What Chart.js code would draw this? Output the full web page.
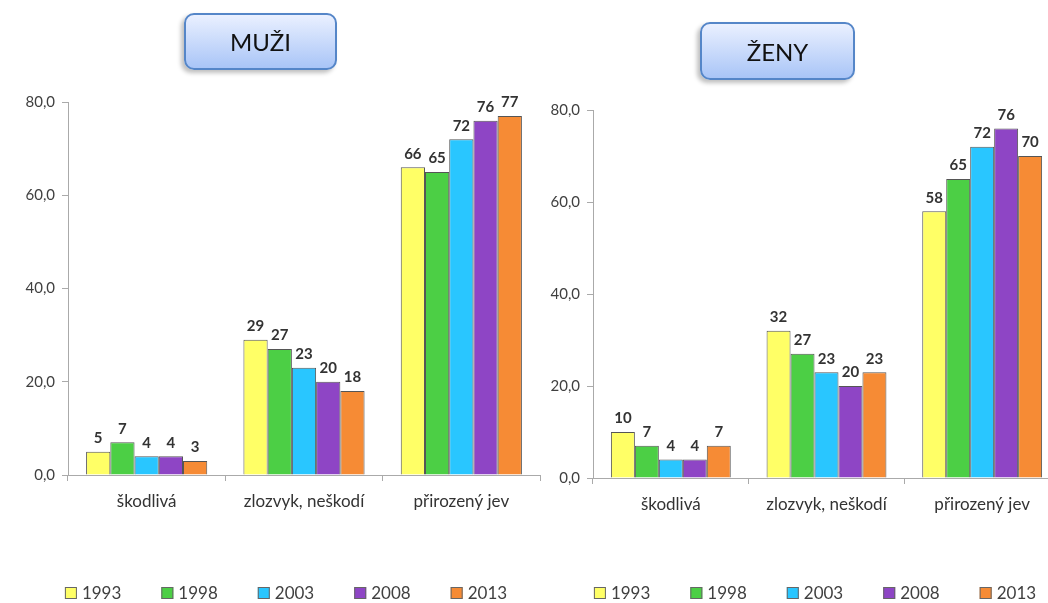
<!DOCTYPE html>
<html>
<head>
<meta charset="utf-8">
<script src="https://cdn.jsdelivr.net/npm/chart.js@4/dist/chart.umd.min.js"></script>
<style>
  html, body { margin: 0; padding: 0; background: #fff; overflow: hidden; }
  body { width: 1048px; height: 603px; position: relative; }
  .box { position: absolute; height: 603px; }
  .title {
    position: absolute; box-sizing: border-box;
    border: 2px solid #5586c8; border-radius: 10px;
    background: linear-gradient(#eaf0ff, #a9c5f7);
    box-shadow: -3px 3px 4px rgba(0,0,0,0.25);
    font: 24px Lato, "Open Sans", sans-serif; color: #111;
    display: flex; align-items: center; justify-content: center;
  }
</style>
</head>
<body>
<div class="box" style="left:0;top:0;width:545px"><canvas id="muzi"></canvas></div>
<div class="box" style="left:530px;top:0;width:530px"><canvas id="zeny"></canvas></div>
<div class="title" style="left:184px;top:13px;width:153px;height:57px">MUŽI</div>
<div class="title" style="left:700px;top:22px;width:155px;height:58px">ŽENY</div>
<script>
// categories and years
const categories = ['škodlivá', 'zlozvyk, neškodí', 'přirozený jev'];
const years = ['1993', '1998', '2003', '2008', '2013'];
const colors = ['#ffff66', '#4ccf45', '#29c6ff', '#8e45c5', '#f68b35'];

// values per year: [škodlivá, zlozvyk, přirozený jev]
const muzi1993 = [5, 29, 66];
const muzi1998 = [7, 27, 65];
const muzi2003 = [4, 23, 72];
const muzi2008 = [4, 20, 76];
const muzi2013 = [3, 18, 77];

const zeny1993 = [10, 32, 58];
const zeny1998 = [7, 27, 65];
const zeny2003 = [4, 23, 72];
const zeny2008 = [4, 20, 76];
const zeny2013 = [7, 23, 70];

const yTicks = [0, 20, 40, 60, 80];

const FONT = 'Lato, "Open Sans", sans-serif';

// numbers above the bars
const valueLabels = {
  id: 'valueLabels',
  afterDatasetsDraw(chart) {
    const ctx = chart.ctx;
    ctx.save();
    ctx.font = 'bold 15px ' + FONT;
    ctx.fillStyle = '#333';
    ctx.textAlign = 'center';
    ctx.textBaseline = 'bottom';
    chart.data.datasets.forEach((ds, i) => {
      chart.getDatasetMeta(i).data.forEach((bar, j) => {
        ctx.fillText(String(ds.data[j]), bar.x, bar.y - 6);
      });
    });
    ctx.restore();
  }
};

// single-row legend with wide gaps (the built-in one wraps)
const yearLegend = {
  id: 'yearLegend',
  afterDraw(chart, args, opts) {
    const ctx = chart.ctx;
    ctx.save();
    ctx.font = '17px ' + FONT;
    const box = 12, gap = 5, space = opts.space;
    const items = chart.data.datasets.map(ds => ({
      ds, w: box + gap + ctx.measureText(ds.label).width
    }));
    const total = items.reduce((s, it) => s + it.w, 0) + space * (items.length - 1);
    let x = opts.cx - total / 2;
    items.forEach(it => {
      ctx.fillStyle = it.ds.backgroundColor;
      ctx.fillRect(x, opts.y - box / 2, box, box);
      ctx.strokeStyle = '#666';
      ctx.lineWidth = 1;
      ctx.strokeRect(x + 0.5, opts.y - box / 2 + 0.5, box - 1, box - 1);
      ctx.fillStyle = '#404040';
      ctx.textBaseline = 'middle';
      ctx.fillText(it.ds.label, x + box + gap, opts.y + 1);
      x += it.w + space;
    });
    ctx.restore();
  }
};

function makeChart(id, series, pad, legendCx) {
  return new Chart(document.getElementById(id), {
    type: 'bar',
    data: {
      labels: categories,
      datasets: years.map((y, i) => ({
        label: y,
        data: series[i],
        backgroundColor: colors[i],
        borderColor: '#555',
        borderWidth: 1,
        categoryPercentage: 0.77,
        barPercentage: 1
      }))
    },
    options: {
      responsive: true,
      maintainAspectRatio: false,
      animation: false,
      layout: { padding: pad },
      plugins: {
        tooltip: { enabled: false },
        legend: { display: false },
        yearLegend: { cx: legendCx, y: 593, space: 40 }
      },
      scales: {
        x: {
          grid: { display: true, offset: true, drawOnChartArea: false, drawTicks: true, tickLength: 6, color: '#aaa' },
          border: { color: '#aaa' },
          ticks: { font: { family: FONT, size: 17 }, color: '#333', padding: 10 },
          afterFit(s) { s.height = 40; }
        },
        y: {
          min: 0, max: 80,
          afterBuildTicks(s) { s.ticks = yTicks.map(v => ({ value: v })); },
          grid: { drawOnChartArea: false, drawTicks: true, tickLength: 6, color: '#aaa' },
          border: { color: '#aaa' },
          ticks: {
            font: { family: FONT, size: 15 }, color: '#404040', padding: 7,
            callback: v => v.toFixed(1).replace('.', ',')
          },
          afterFit(s) { s.width = 58; }
        }
      }
    },
    plugins: [valueLabels, yearLegend]
  });
}

makeChart('muzi', [muzi1993, muzi1998, muzi2003, muzi2008, muzi2013],
  { left: 10, right: 5, top: 102, bottom: 88 }, 286);
makeChart('zeny', [zeny1993, zeny1998, zeny2003, zeny2008, zeny2013],
  { left: 5, right: 0, top: 110, bottom: 85 }, 285);
</script>
</body>
</html>
